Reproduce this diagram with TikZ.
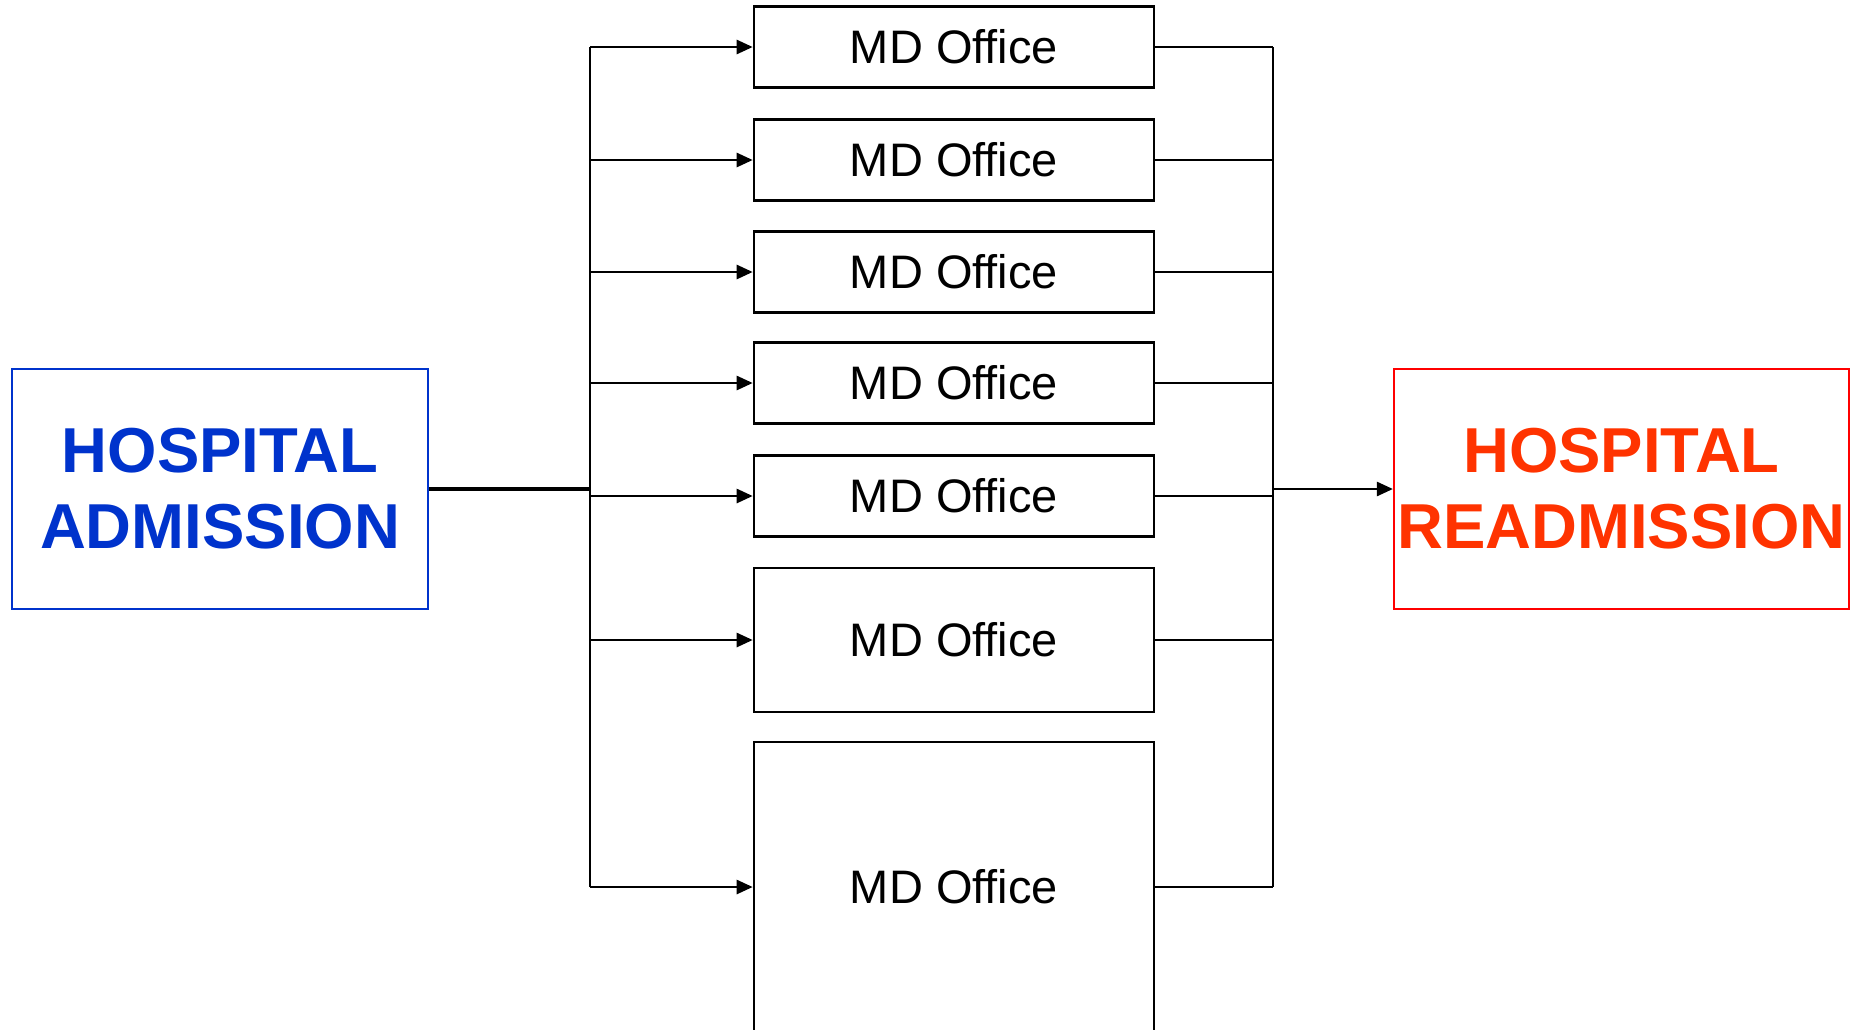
\documentclass[tikz,border=0pt]{standalone}
\usepackage{fontspec}
\setmainfont{Liberation Sans}
\usetikzlibrary{arrows.meta}
\definecolor{admblue}{RGB}{0,51,204}
\definecolor{readred}{RGB}{255,51,0}
\definecolor{readborder}{RGB}{255,0,0}
\begin{document}
\begin{tikzpicture}[x=1pt,y=-1pt,
  line width=2.6pt,
  office/.style={draw=black, fill=white, minimum width=400pt, inner sep=0pt,
    font=\fontsize{47}{56}\selectfont},
  hospital/.style={draw, line width=2.2pt, inner sep=0pt, align=center,
    minimum width=#1, minimum height=240pt,
    font=\fontsize{63.5}{76}\selectfont\bfseries},
  flow/.style={-{Triangle[length=16pt,width=14pt]}},
]
\clip (0,0) rectangle (1855,1029);

% endpoints
\node[hospital=416pt, draw=admblue, text=admblue] (adm) at (220,489) {HOSPITAL\\ADMISSION};
\node[hospital=455pt, draw=readborder, text=readred] (readm) at (1621.5,489) {HOSPITAL\\READMISSION};

% offices
\node[office, minimum height=81pt]  (md1) at (954,47)  {MD Office};
\node[office, minimum height=81pt]  (md2) at (954,160) {MD Office};
\node[office, minimum height=81pt]  (md3) at (954,272) {MD Office};
\node[office, minimum height=81pt]  (md4) at (954,383) {MD Office};
\node[office, minimum height=81pt]  (md5) at (954,496) {MD Office};
\node[office, minimum height=144pt] (md6) at (954,640) {MD Office};
\node[office, minimum height=290pt] (md7) at (954,887) {MD Office};

% distribution buses
\coordinate (busL) at (590,489);
\coordinate (busR) at (1273,489);

\draw[line width=3.4pt] (adm.east) -- (busL);
\draw (busL |- md7.west) -- (busL |- md1.west);
\foreach \n in {1,...,7}
  \draw[flow] (busL |- md\n.west) -- (md\n.west);

\draw (busR |- md1.east) -- (busR |- md7.east);
\foreach \n in {1,...,7}
  \draw (md\n.east) -- (busR |- md\n.east);
\draw[flow] (busR) -- (readm.west);
\end{tikzpicture}
\end{document}
